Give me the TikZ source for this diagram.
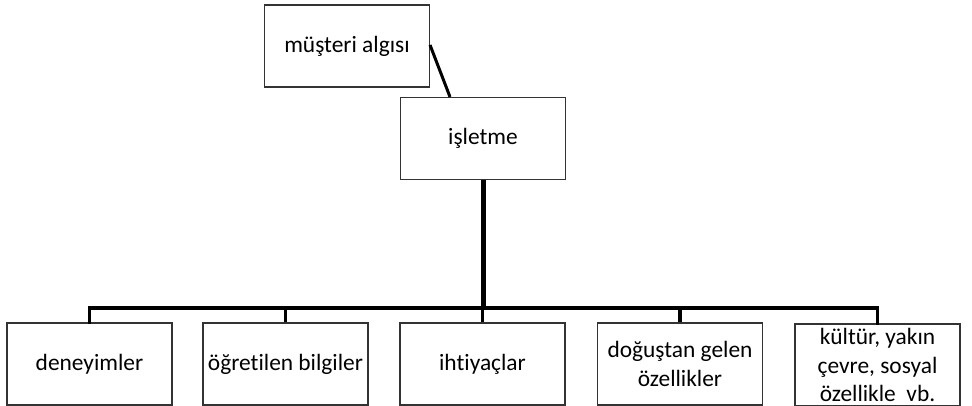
\documentclass[tikz,border=0pt]{standalone}
\usepackage{fontspec}
\setmainfont{Carlito}[Ligatures=NoCommon,RawFeature={-liga;-clig;-dlig}]
\begin{document}
\begin{tikzpicture}[x=1pt,y=-1pt,
  boxnode/.style={draw=black!80, line width=1.1pt, fill=white, minimum width=165pt, minimum height=82pt,
    inner sep=2pt, align=center, font=\fontsize{23.4}{28.6}\selectfont},
  thickline/.style={line width=3.2pt, black},
  trunk/.style={line width=5pt, black},
  diag/.style={line width=3pt, black}]
\useasboundingbox (0,0) rectangle (972,406);
\node[boxnode] (ma) at (347,46) {müşteri algısı};
\node[boxnode] (is) at (483,138.5) {işletme};
\node[boxnode] (b1) at (89.5,364) {deneyimler};
\node[boxnode] (b2) at (285.5,364) {öğretilen bilgiler};
\node[boxnode] (b3) at (482.5,364) {ihtiyaçlar};
\node[boxnode] (b4) at (680,364) {doğuştan gelen\\özellikler};
\node[boxnode] (b5) at (877.5,365) {kültür, yakın\\çevre, sosyal\\özellikle\ \ vb.};
\coordinate (bar) at (483,308);
\draw[diag] (ma.east |- 0,45) -- (is.north -| 450,0);
\draw[trunk] (is.south) -- (bar);
\draw[thickline, line cap=rect] (b1.north) |- (bar -| b3.north) -| (b5.north);
\draw[thickline] (b2.north) -- (b2.north |- bar);
\draw[thickline] (b3.north) -- (b3.north |- bar);
\draw[thickline] (b4.north) -- (b4.north |- bar);
\end{tikzpicture}
\end{document}
